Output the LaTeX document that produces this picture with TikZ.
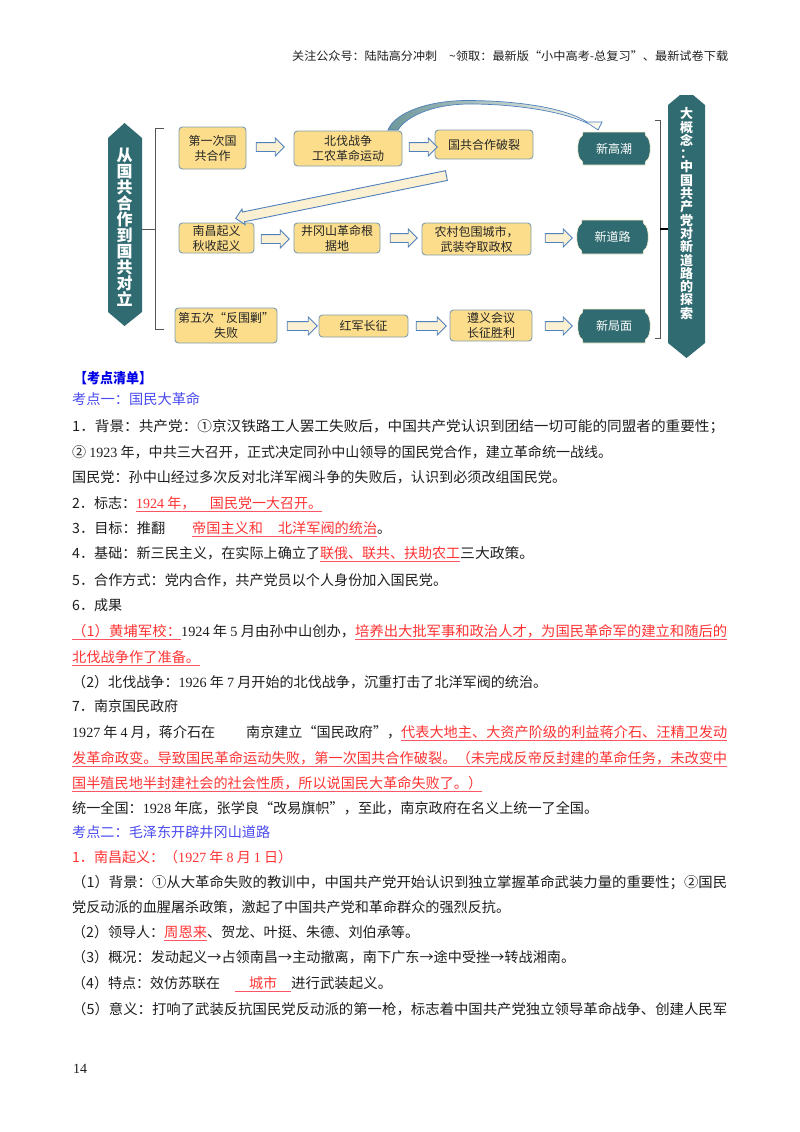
\documentclass[tikz,border=0pt]{standalone}
\usepackage{fontspec}
\usepackage{graphicx}
\setmainfont{Noto Sans CJK SC}
\newfontfamily\lat{Liberation Serif}
\usetikzlibrary{shapes.arrows,calc}
\AtBeginDocument{\lineskiplimit=-100pt\relax}
\definecolor{teal1}{HTML}{2F6B70}
\definecolor{boxf}{HTML}{FBDD8C}
\definecolor{boxd}{HTML}{7F9DB0}
\definecolor{arf}{HTML}{FBF0D2}
\definecolor{ard}{HTML}{4F81BD}
\definecolor{redt}{HTML}{FF3333}
\definecolor{redl}{HTML}{FF5566}
\definecolor{blue1}{HTML}{0000E6}
\definecolor{blue2}{HTML}{4A4AF0}
\definecolor{ink}{HTML}{1E1E1E}
\definecolor{brk}{HTML}{555555}
\tikzset{
  seg/.style={inner sep=0pt,text height=13.5pt,text depth=3.5pt,font=\fontsize{14.1}{16}\selectfont,text=ink},
  redseg/.style={text=redt},
  headblue/.style={text=blue1,font=\fontsize{14.1}{16}\selectfont\bfseries},
  kaodian/.style={text=blue2},
  ul/.style={draw=redl,line width=0.9pt},
  fbox/.style={draw=boxd,fill=boxf,line width=0.9pt,rounded corners=3.5pt,inner sep=0pt,align=center,
     font=\fontsize{12}{15}\selectfont,text=black!85},
  barrow/.style={single arrow,draw=ard,fill=arf,line width=0.9pt,inner sep=0pt,minimum width=17pt,
     text height=8pt,text depth=0pt,text width=1pt,
     single arrow head extend=4.5pt,single arrow head indent=0pt},
  plaq/.style={inner sep=0pt,text=white,font=\fontsize{12}{15}\selectfont},
  vert/.style={inner sep=0pt,text=white,align=center},
  brack/.style={draw=brk,line width=1pt},
}
\newcommand\seg[6][]{\node[seg,anchor=west,#1] (#2) at (#3,#5) {\resizebox{\dimexpr#4pt-#3pt\relax}{\height}{#6}};}
\newcommand\useg[5]{\seg[redseg]{#1}{#2}{#3}{#4}{#5}\draw[ul] (#1.south west) -- (#1.south east);}
\newcommand\fb[6]{\node[fbox,minimum width=\dimexpr#4pt-#2pt\relax,minimum height=\dimexpr#5pt-#3pt\relax] (#1) at ({(#2+#4)/2},{(#3+#5)/2}) {#6};}
\newcommand\plaque[6]{%
  \fill[teal1,draw=arf,line width=0.6pt] (#2+5,#3) -- (#4-5,#3) .. controls (#4-5,#3+3) and (#4-4,#3+5) .. (#4-2,#3+6)
     .. controls (#4+1,{(#3+#5)/2-6}) and (#4+1,{(#3+#5)/2+6}) .. (#4-2,#5-6)
     .. controls (#4-4,#5-5) and (#4-5,#5-3) .. (#4-5,#5) -- (#2+5,#5)
     .. controls (#2+5,#5-3) and (#2+4,#5-5) .. (#2+2,#5-6)
     .. controls (#2-1,{(#3+#5)/2+6}) and (#2-1,{(#3+#5)/2-6}) .. (#2+2,#3+6)
     .. controls (#2+4,#3+5) and (#2+5,#3+3) .. (#2+5,#3) -- cycle;
  \node[plaq] (#1) at ({(#2+#4)/2},{(#3+#5)/2}) {#6};}
\newcommand\arr[4]{\node[barrow,minimum height=\dimexpr#3pt-#2pt\relax] (#1) at ({(#2+#3)/2},#4) {};}
\begin{document}
\begin{tikzpicture}[x=1pt,y=-1pt]
\useasboundingbox (0,0) rectangle (800,1132);
\fill[white] (0,0) rectangle (800,1132);
% header
\seg[font=\fontsize{11.6}{14}\selectfont]{hdra}{292}{437}{56}{关注公众号：陆陆高分冲刺}
\seg[font=\fontsize{11.6}{14}\selectfont]{hdrb}{449}{728}{56}{\textasciitilde 领取：最新版“小中高考-总复习”、最新试卷下载}
% left hexagon
\fill[teal1] (124.5,123) -- (142,138) -- (142,312) -- (124.5,326) -- (108,312) -- (108,138) -- cycle;
\node[vert,font=\fontsize{16}{16}\selectfont\bfseries,text=white] (ltitle) at (124.5,227) {从\\国\\共\\合\\作\\到\\国\\共\\对\\立};
% left bracket
\coordinate (lbt) at (164,128); \coordinate (lbb) at (164,329); \coordinate (lbm) at (155,229);
\draw[brack] (lbt) -- (155,128) -- (155,329) -- (lbb);
\draw[brack] (142,229) -- (lbm);
% boxes
\fb{b1}{179}{127}{246}{169}{第一次国\\共合作}
\fb{b2}{294}{131}{402}{166}{北伐战争\\工农革命运动}
\fb{b3}{435}{130}{533}{159}{国共合作破裂}
\fb{b4}{179}{223}{254}{253}{南昌起义\\秋收起义}
\fb{b5}{294}{223}{380}{253}{井冈山革命根\\据地}
\fb{b6}{422}{223}{531}{255}{农村包围城市，\\武装夺取政权}
\fb{b7}{175}{308}{277}{343}{第五次“反围剿”\\失败}
\fb{b8}{319}{315}{408}{337}{红军长征}
\fb{b9}{450}{310}{532}{341}{遵义会议\\长征胜利}
% plaques
\plaque{n1}{578}{132}{650}{165}{新高潮}
\plaque{n2}{577}{220}{648}{254}{新道路}
\plaque{n3}{578}{309}{650}{343}{新局面}
% block arrows
\arr{a1}{254}{282}{147}
\arr{a2}{407}{435}{147}
\arr{a3}{259}{287}{239}
\arr{a4}{388}{415}{238}
\arr{a5}{543}{570}{238}
\arr{a6}{285}{315}{326}
\arr{a7}{414}{444}{326}
\arr{a8}{543}{570}{326}
% long diagonal arrow
\node[barrow,minimum height=215pt,minimum width=15pt,single arrow head extend=3pt,text height=9pt,rotate=191.5] (dg) at (343.5,196.5) {};
% curved arrow
\coordinate (cs1) at (388,130); \coordinate (cs2) at (398,130); \coordinate (ct) at (598,130);
\path[draw=ard,line width=0.7pt,left color=teal1!70,right color=arf!40!white]
  (cs1) .. controls (395,112) and (430,100) .. (470,100.5) .. controls (520,101) and (565,108) .. (587,122)
  -- (602,122) -- (ct) -- (589,124) .. controls (560,110) and (510,104) .. (470,104)
  .. controls (430,104) and (405,118) .. (cs2) -- cycle;
% right bracket
\coordinate (rbt) at (655,120); \coordinate (rbb) at (655,338); \coordinate (rbm) at (668,229);
\draw[brack] (rbt) -- (660,120) -- (660,338) -- (rbb);
\draw[brack,line width=1.2pt,black] (660,229) -- (rbm);
% right hexagon
\fill[teal1] (680,95) -- (693,95) -- (705,105) -- (705,343) -- (686.5,358) -- (668,343) -- (668,105) -- cycle;
\node[vert,font=\fontsize{13}{13.3}\selectfont\bfseries,text=white] (rtitle) at (686.5,213.5) {大\\概\\念\\：\\中\\国\\共\\产\\党\\对\\新\\道\\路\\的\\探\\索};
% body text
\seg[headblue]{t1}{74}{152}{378}{【考点清单】}
\seg[kaodian]{t2}{72}{200}{399}{考点一：国民大革命}
\seg{l1}{72}{724}{426}{1．背景：共产党：①京汉铁路工人罢工失败后，中国共产党认识到团结一切可能的同盟者的重要性；}
\seg{l2}{72}{612}{452}{② {\lat 1923} 年，中共三大召开，正式决定同孙中山领导的国民党合作，建立革命统一战线。}
\seg{l3}{72}{566}{477}{国民党：孙中山经过多次反对北洋军阀斗争的失败后，认识到必须改组国民党。}
\seg{l4a}{72}{136}{503}{2．标志：}
\useg{l4b}{136}{322}{503}{{\lat 1924} 年，\hspace{14.6pt}国民党一大召开。}
\seg{l5a}{72}{165}{528}{3．目标：推翻}
\useg{l5b}{192}{377}{528}{帝国主义和\hspace{15pt}北洋军阀的统治}
\seg{l5c}{377}{391}{528}{。}
\seg{l6a}{72}{320}{553}{4．基础：新三民主义，在实际上确立了}
\useg{l6b}{320}{460}{553}{联俄、联共、扶助农工}
\seg{l6c}{460}{534}{553}{三大政策。}
\seg{l7}{72}{447}{580}{5．合作方式：党内合作，共产党员以个人身份加入国民党。}
\seg{l8}{72}{122}{605}{6．成果}
\useg{l9a}{72}{181}{631}{（1）黄埔军校：}
\seg{l9b}{181}{355}{631}{{\lat 1924} 年 {\lat 5} 月由孙中山创办，}
\useg{l9c}{355}{727}{631}{培养出大批军事和政治人才，为国民革命军的建立和随后的}
\useg{l10}{72}{200}{657}{北伐战争作了准备。}
\seg{l11}{72}{547}{682}{（2）北伐战争：{\lat 1926} 年 {\lat 7} 月开始的北伐战争，沉重打击了北洋军阀的统治。}
\seg{l12}{72}{178}{706}{7．南京国民政府}
\seg{l13a}{72}{215}{732}{{\lat 1927} 年 {\lat 4} 月，蒋介石在}
\seg{l13b}{246}{401}{732}{南京建立“国民政府”，}
\useg{l13c}{401}{727}{732}{代表大地主、大资产阶级的利益蒋介石、汪精卫发动}
\useg{l14}{72}{727}{758}{发革命政变。导致国民革命运动失败，第一次国共合作破裂。（未完成反帝反封建的革命任务，未改变中}
\useg{l15}{72}{482}{783}{国半殖民地半封建社会的社会性质，所以说国民大革命失败了。）}
\seg{l16}{72}{598}{808}{统一全国：{\lat 1928} 年底，张学良“改易旗帜”，至此，南京政府在名义上统一了全国。}
\seg[kaodian]{t3}{72}{270}{832}{考点二：毛泽东开辟井冈山道路}
\seg[redseg]{l17}{72}{292}{857}{1．南昌起义：（{\lat 1927} 年 {\lat 8} 月 {\lat 1} 日）}
\seg{l18}{72}{727}{882}{（1）背景：①从大革命失败的教训中，中国共产党开始认识到独立掌握革命武装力量的重要性；②国民}
\seg{l19}{72}{510}{907}{党反动派的血腥屠杀政策，激起了中国共产党和革命群众的强烈反抗。}
\seg{l20a}{72}{164}{932}{（2）领导人：}
\useg{l20b}{164}{207}{932}{周恩来}
\seg{l20c}{207}{419}{932}{、贺龙、叶挺、朱德、刘伯承等。}
\seg{l21}{72}{575}{957}{（3）概况：发动起义→占领南昌→主动撤离，南下广东→途中受挫→转战湘南。}
\seg{l22a}{72}{220}{983}{（4）特点：效仿苏联在}
\useg{l22b}{235}{291}{983}{\hspace{14pt}城市\hspace{14pt}}
\seg{l22c}{291}{392}{983}{进行武装起义。}
\seg{l23}{72}{727}{1009}{（5）意义：打响了武装反抗国民党反动派的第一枪，标志着中国共产党独立领导革命战争、创建人民军}
\seg[font=\lat\fontsize{14}{16}\selectfont]{pg}{73}{87}{1068}{14}
\end{tikzpicture}
\end{document}
